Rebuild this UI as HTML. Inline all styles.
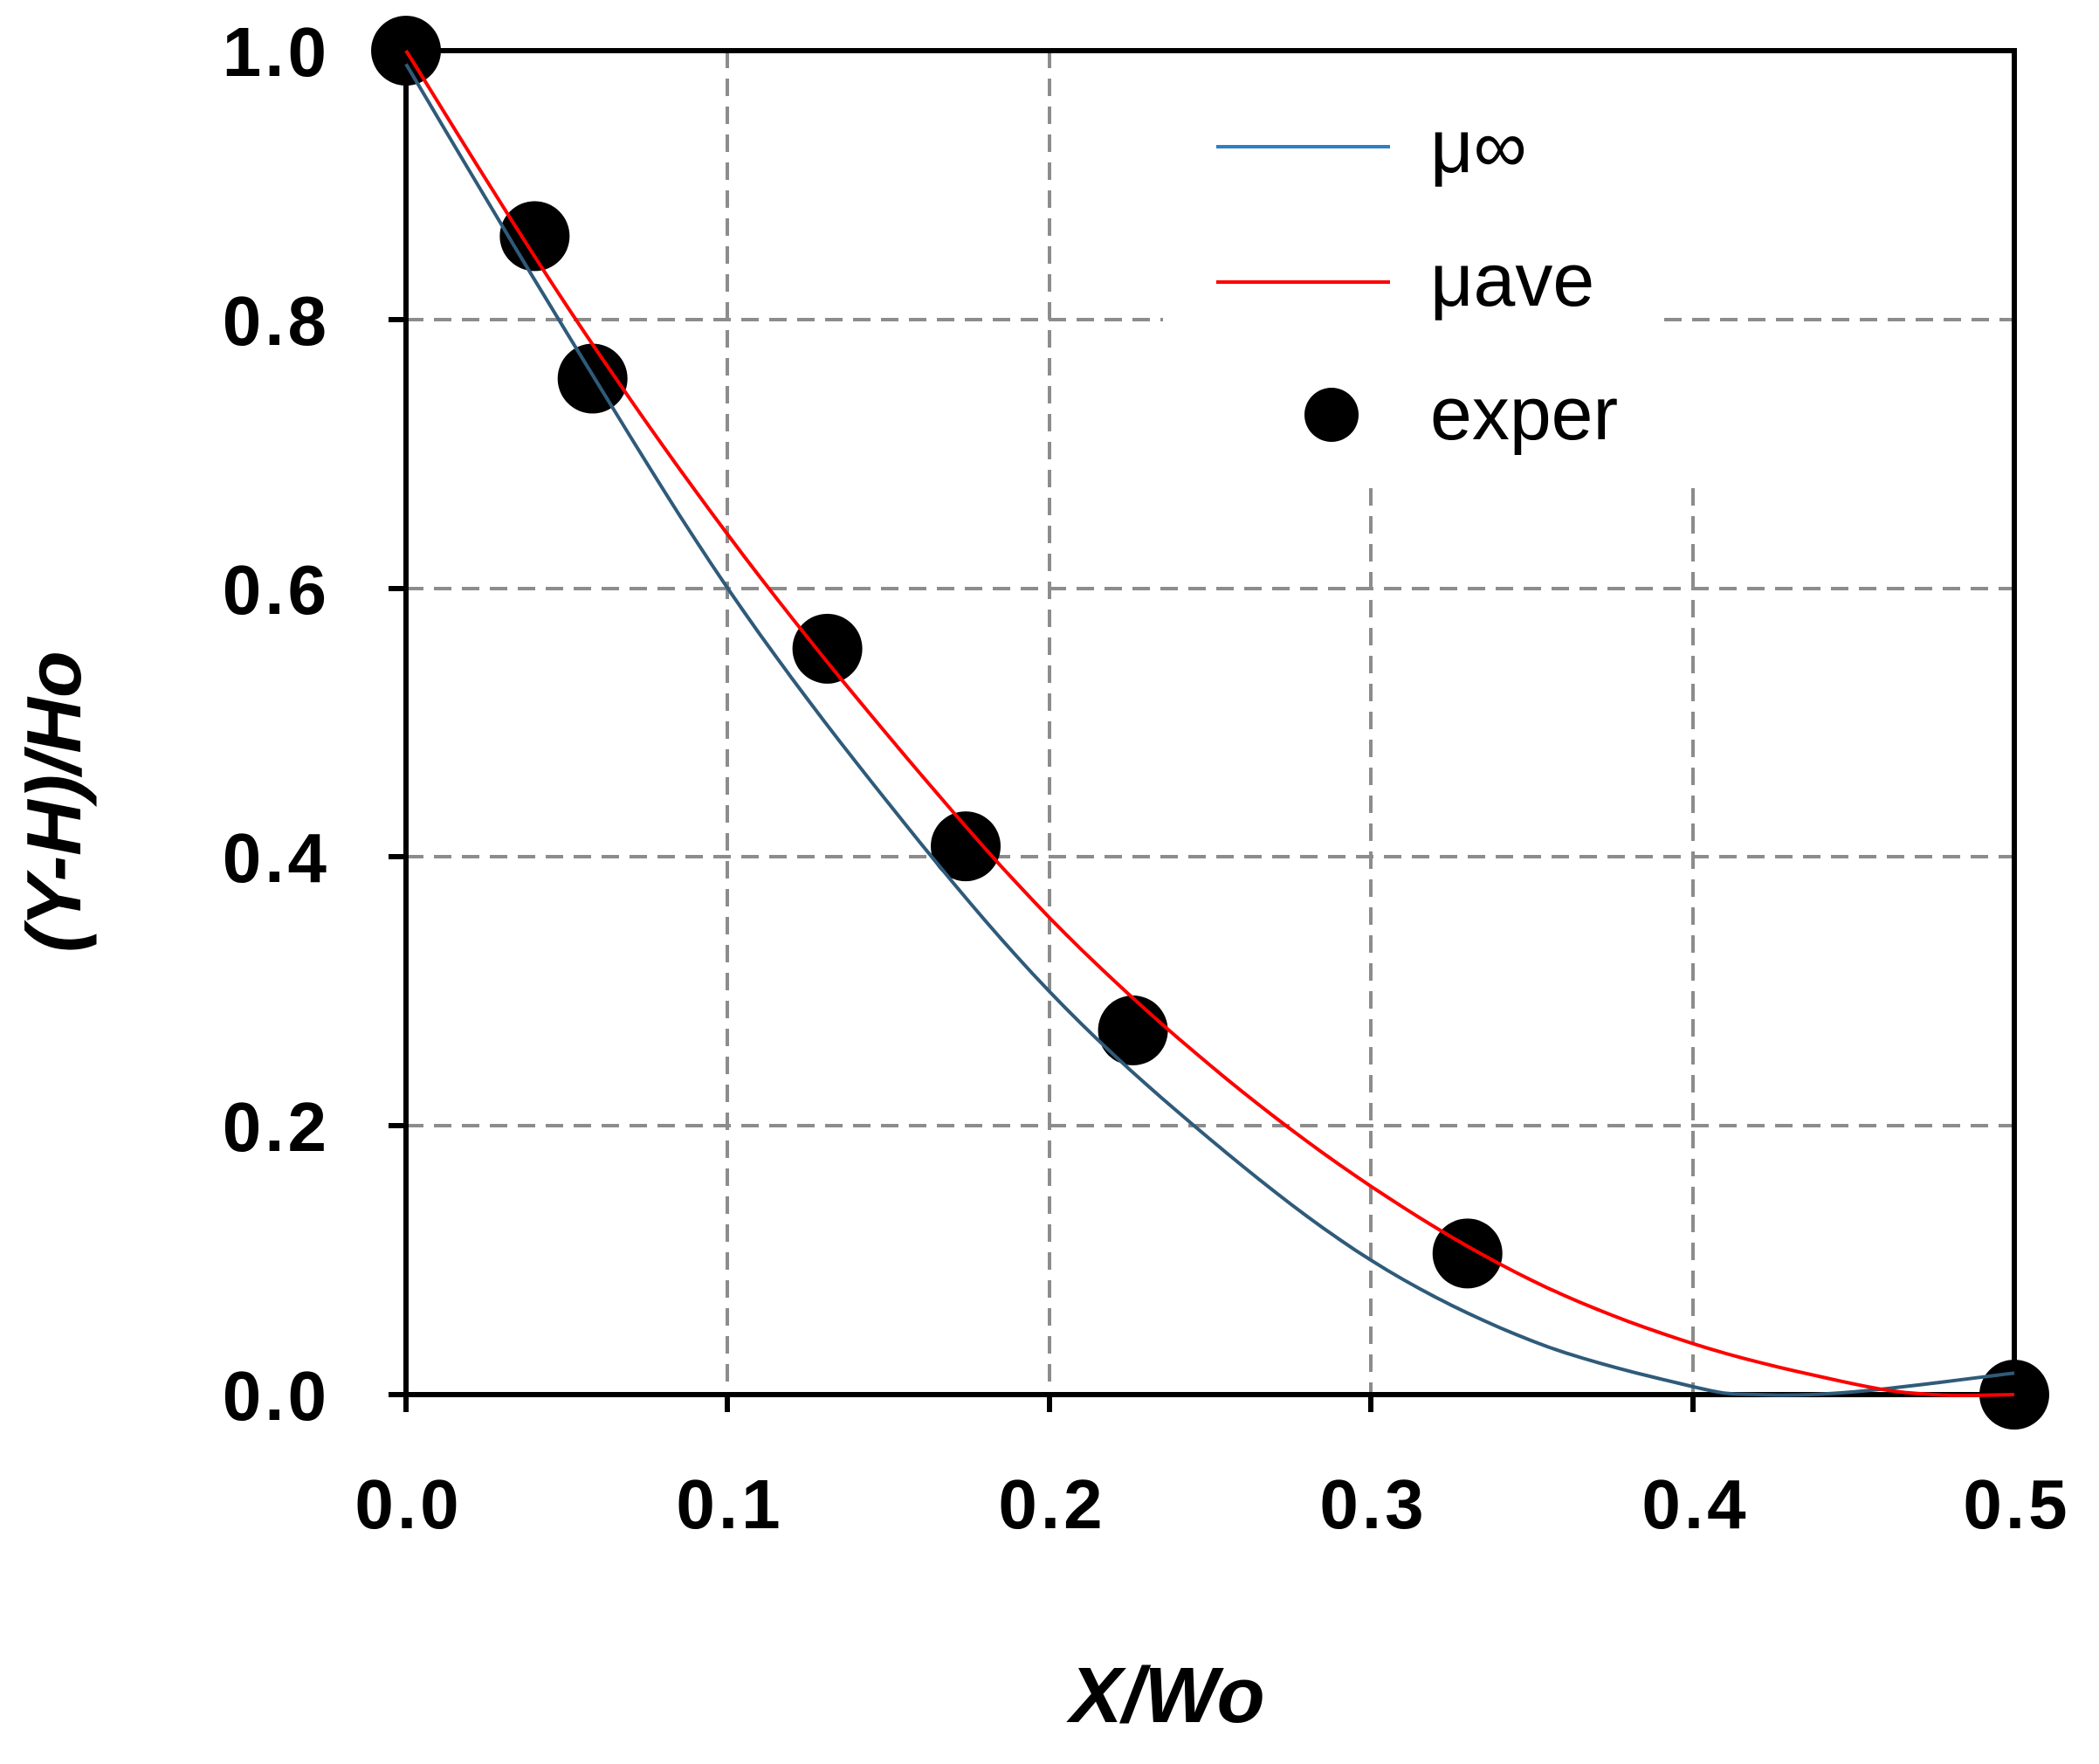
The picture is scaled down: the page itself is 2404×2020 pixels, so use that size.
<!DOCTYPE html>
<html><head><meta charset="utf-8"><style>
html,body{margin:0;padding:0;background:#fff;}
svg{display:block;}
text{font-family:"Liberation Sans",sans-serif;}
</style></head><body>
<svg id="s" width="2404" height="2020" viewBox="0 0 2404 2020" xmlns="http://www.w3.org/2000/svg">
<rect width="2404" height="2020" fill="#fff"/>
<g stroke="#8c8c8c" stroke-width="4" stroke-dasharray="20 12">
<line x1="833" y1="58" x2="833" y2="1597"/>
<line x1="1202" y1="58" x2="1202" y2="1597"/>
<line x1="1570" y1="559" x2="1570" y2="1597"/>
<line x1="1939" y1="559" x2="1939" y2="1597"/>
<line x1="465" y1="366" x2="1332" y2="366"/>
<line x1="1906" y1="366" x2="2307" y2="366"/>
<line x1="465" y1="674" x2="2307" y2="674"/>
<line x1="465" y1="981" x2="2307" y2="981"/>
<line x1="465" y1="1289" x2="2307" y2="1289"/>
</g>
<g stroke="#000" stroke-width="6" fill="none">
<rect x="465" y="58" width="1842" height="1539"/>
<line x1="445" y1="58" x2="465" y2="58"/>
<line x1="445" y1="366" x2="465" y2="366"/>
<line x1="445" y1="674" x2="465" y2="674"/>
<line x1="445" y1="981" x2="465" y2="981"/>
<line x1="445" y1="1289" x2="465" y2="1289"/>
<line x1="445" y1="1597" x2="465" y2="1597"/>
<line x1="465" y1="1597" x2="465" y2="1617"/>
<line x1="833" y1="1597" x2="833" y2="1617"/>
<line x1="1202" y1="1597" x2="1202" y2="1617"/>
<line x1="1570" y1="1597" x2="1570" y2="1617"/>
<line x1="1939" y1="1597" x2="1939" y2="1617"/>
<line x1="2307" y1="1597" x2="2307" y2="1617"/>
</g>
<g id="pts" fill="#000"></g>
<path id="blue" fill="none" stroke="#2f5b7a" stroke-width="4"/>
<path id="red" fill="none" stroke="#ff0000" stroke-width="4"/>
<g font-weight="bold" font-size="80" fill="#000" text-anchor="end" letter-spacing="4">
<text x="378" y="87">1.0</text>
<text x="378" y="395">0.8</text>
<text x="378" y="703">0.6</text>
<text x="378" y="1010">0.4</text>
<text x="378" y="1318">0.2</text>
<text x="378" y="1626">0.0</text>
</g>
<g font-weight="bold" font-size="80" fill="#000" text-anchor="middle" letter-spacing="4">
<text x="468" y="1750">0.0</text>
<text x="836" y="1750">0.1</text>
<text x="1205" y="1750">0.2</text>
<text x="1573" y="1750">0.3</text>
<text x="1942" y="1750">0.4</text>
<text x="2310" y="1750">0.5</text>
</g>
<text x="1337" y="1972" font-size="90" font-weight="bold" font-style="italic" text-anchor="middle">X/Wo</text>
<text transform="translate(92,918) rotate(-90)" font-size="88" font-weight="bold" font-style="italic" text-anchor="middle">(Y-H)/Ho</text>
<line x1="1393" y1="168" x2="1592" y2="168" stroke="#2f7fc4" stroke-width="4"/>
<line x1="1393" y1="323" x2="1592" y2="323" stroke="#ff0000" stroke-width="4"/>
<circle cx="1525" cy="475" r="31" fill="#000"/>
<g font-size="86" fill="#000">
<text x="1638" y="197">μ∞</text>
<text x="1638" y="350">μave</text>
<text x="1638" y="503">exper</text>
</g>
</svg>
<script>
var X=function(x){return 465+x*3684;},Y=function(y){return 1597-y*1539;};
function cr(p){var d="M"+X(p[0][0])+" "+Y(p[0][1]);
for(var i=0;i<p.length-1;i++){var p0=p[Math.max(i-1,0)],p1=p[i],p2=p[i+1],p3=p[Math.min(i+2,p.length-1)];
for(var t=0.1;t<=1.001;t+=0.1){var t2=t*t,t3=t2*t;
var f=function(a,b,c,e){return 0.5*((2*b)+(-a+c)*t+(2*a-5*b+4*c-e)*t2+(-a+3*b-3*c+e)*t3);};
d+=" L"+X(f(p0[0],p1[0],p2[0],p3[0])).toFixed(1)+" "+Y(f(p0[1],p1[1],p2[1],p3[1])).toFixed(1);}}
return d;}
document.getElementById("blue").setAttribute("d",cr([[0,0.99],[0.05,0.79],[0.1,0.60],[0.15,0.44],[0.2,0.30],[0.25,0.19],[0.3,0.10],[0.35,0.04],[0.4,0.006],[0.42,0],[0.45,0.002],[0.5,0.016]]));
document.getElementById("red").setAttribute("d",cr([[0,1],[0.05,0.81],[0.1,0.64],[0.15,0.49],[0.2,0.355],[0.25,0.245],[0.3,0.155],[0.35,0.085],[0.4,0.038],[0.45,0.008],[0.475,0],[0.5,0]]));
var pts=[[0,1],[0.04,0.862],[0.058,0.756],[0.131,0.555],[0.174,0.408],[0.226,0.271],[0.330,0.105],[0.5,0]];
var g=document.getElementById("pts"),h="";
pts.forEach(function(p){h+='<circle cx="'+X(p[0])+'" cy="'+Y(p[1])+'" r="40"/>';});
g.innerHTML=h;
</script>
</body></html>
